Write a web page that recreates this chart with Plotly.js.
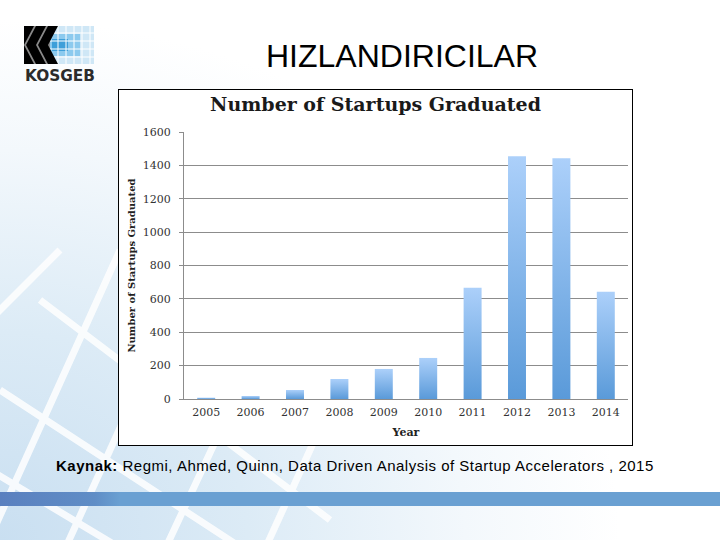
<!DOCTYPE html>
<html>
<head>
<meta charset="utf-8">
<script src="https://cdn.plot.ly/plotly-3.0.1.min.js"></script>
<style>
  body { margin: 0; }
  #slide {
    position: relative; width: 720px; height: 540px; overflow: hidden;
    background: radial-gradient(ellipse 620px 520px at 0% 100%, #c9dff1 0%, #dcebf6 40%, #f3f8fc 75%, #ffffff 100%);
  }
  #deco { position: absolute; left: 0; top: 0; }
  #logo { position: absolute; left: 22px; top: 24px; }
  #heading {
    position: absolute; left: 0; width: 804px; top: 38px; text-align: center;
    font-family: "Liberation Sans", Arial, sans-serif; font-size: 32px; color: #000;
  }
  #chart {
    position: absolute; left: 118px; top: 89px; width: 513px; height: 355px;
    border: 1px solid #000; background: #fff;
  }
  #source {
    position: absolute; left: 56px; top: 457px; white-space: nowrap; letter-spacing: 0.5px;
    font-family: "Liberation Sans", Arial, sans-serif; font-size: 15px; color: #000;
  }
  #band { position: absolute; left: 0; top: 492px; width: 720px; height: 14px;
    background: linear-gradient(to right, #5a80bf 0px, #5f8dc6 95px, #6aa0d2 120px, #6aa0d2 100%); }
</style>
</head>
<body>
<div id="slide">
  <svg id="deco" width="720" height="540">
    <g stroke="#ffffff" stroke-width="7" opacity="0.85" fill="none">
      <line x1="-20" y1="560" x2="120" y2="250" />
      <line x1="60" y1="560" x2="210" y2="230" />
      <line x1="160" y1="560" x2="300" y2="260" />
      <line x1="260" y1="560" x2="360" y2="340" />
      <line x1="-20" y1="330" x2="60" y2="250" />
      <line x1="-10" y1="470" x2="140" y2="560" />
      <line x1="0" y1="390" x2="260" y2="560" />
      <line x1="40" y1="300" x2="330" y2="520" />
    </g>
  </svg>

  <svg id="logo" width="76" height="60">
    <rect x="2" y="2" width="26" height="38" fill="#8a8a8a" />
    <polygon points="2,2 12,2 2,21" fill="#000" />
    <polygon points="2,40 12,40 2,21" fill="#000" />
    <polygon points="14,2 24,2 14,21 24,40 14,40 4,21" fill="#000" />
    <g>
      <rect x="28" y="2" width="44" height="38" fill="#cfe7f6" />
      <rect x="28" y="10" width="30" height="22" fill="#8ccaee" />
      <rect x="30" y="15" width="16" height="12" fill="#3e9fd9" />
    </g>
    <g stroke="#ffffff" stroke-width="1">
      <line x1="36" y1="2" x2="36" y2="40" /><line x1="44" y1="2" x2="44" y2="40" />
      <line x1="52" y1="2" x2="52" y2="40" /><line x1="60" y1="2" x2="60" y2="40" />
      <line x1="68" y1="2" x2="68" y2="40" />
      <line x1="28" y1="9" x2="72" y2="9" /><line x1="28" y1="17" x2="72" y2="17" />
      <line x1="28" y1="25" x2="72" y2="25" /><line x1="28" y1="33" x2="72" y2="33" />
    </g>
    <polygon points="26,2 36,2 26,21 36,40 26,40 16,21" fill="#000" />
    <text x="38" y="57" text-anchor="middle" font-family="'DejaVu Sans', sans-serif" font-weight="bold"
      font-size="16" fill="#2b2b2b" textLength="70" lengthAdjust="spacingAndGlyphs">KOSGEB</text>
  </svg>

  <div id="heading">HIZLANDIRICILAR</div>
  <div id="chart"></div>
  <div id="source"><b>Kaynak:</b> Regmi, Ahmed, Quinn, Data Driven Analysis of Startup Accelerators , 2015</div>
  <div id="band"></div>
</div>

<script>
// values
const years = ['2005', '2006', '2007', '2008', '2009', '2010', '2011', '2012', '2013', '2014'];
const graduated = [8, 18, 54, 120, 180, 246, 667, 1454, 1442, 643];
const yTicks = [0, 200, 400, 600, 800, 1000, 1200, 1400, 1600];

const serif = '"DejaVu Serif", "Liberation Serif", serif';

const trace = {
  type: 'bar',
  x: years,
  y: graduated,
  marker: { color: '#7fb2ea', line: { width: 0 } },
  hoverinfo: 'none'
};

const layout = {
  width: 513,
  height: 355,
  margin: { l: 65, r: 4, t: 42, b: 46 },
  paper_bgcolor: '#ffffff',
  plot_bgcolor: '#ffffff',
  bargap: 0.595,
  showlegend: false,
  title: {
    text: '<b>Number of Startups Graduated</b>',
    font: { family: serif, size: 19, color: '#1a1a1a' },
    x: 0.5,
    xanchor: 'center',
    y: 0.96,
    yanchor: 'middle',
    yref: 'container'
  },
  xaxis: {
    type: 'category',
    showline: true,
    linecolor: '#8c8c8c',
    linewidth: 1,
    ticks: '',
    ticklabelstandoff: 3,
    tickfont: { family: serif, size: 11, color: '#333' },
    title: {
      text: '<b>Year</b>',
      font: { family: serif, size: 11, color: '#222' },
      standoff: 10
    }
  },
  yaxis: {
    range: [0, 1600],
    tickvals: yTicks,
    showline: true,
    linecolor: '#8c8c8c',
    linewidth: 1,
    ticks: 'outside',
    ticklen: 4,
    tickcolor: '#8c8c8c',
    ticklabelstandoff: 6,
    showgrid: true,
    gridcolor: '#8c8c8c',
    gridwidth: 1,
    zeroline: false,
    tickfont: { family: serif, size: 11, color: '#333' },
    title: {
      text: '<b>Number of Startups Graduated</b>',
      font: { family: serif, size: 10, color: '#222' },
      standoff: 5
    }
  }
};

Plotly.newPlot('chart', [trace], layout, { staticPlot: true, displayModeBar: false }).then(gd => {
  // vertical gradient on each bar, light at top, darker at base
  const svg = gd.querySelector('.main-svg');
  const ns = 'http://www.w3.org/2000/svg';
  let defs = svg.querySelector('defs');
  const grad = document.createElementNS(ns, 'linearGradient');
  grad.setAttribute('id', 'barGrad');
  grad.setAttribute('x1', '0'); grad.setAttribute('y1', '0');
  grad.setAttribute('x2', '0'); grad.setAttribute('y2', '1');
  [['0', '#acd0fa'], ['1', '#5a9ad9']].forEach(([off, col]) => {
    const stop = document.createElementNS(ns, 'stop');
    stop.setAttribute('offset', off);
    stop.setAttribute('stop-color', col);
    grad.appendChild(stop);
  });
  defs.appendChild(grad);
  gd.querySelectorAll('.bars .point path').forEach(p => {
    p.style.fill = 'url(#barGrad)';
  });
});
</script>
</body>
</html>
